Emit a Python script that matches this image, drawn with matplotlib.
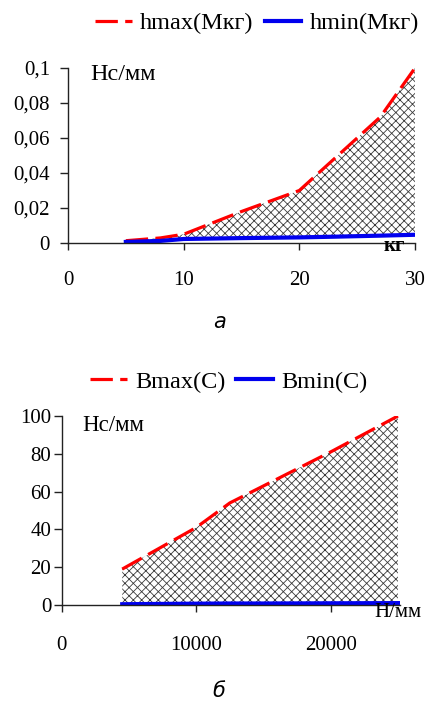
import matplotlib
matplotlib.use("Agg")
import matplotlib.pyplot as plt

# ---- data: chart (а) ----
top_x = [5, 8, 10, 15, 20, 23, 25, 27, 30]
hmax = [0.0013, 0.0029, 0.005, 0.018, 0.030, 0.048, 0.060, 0.072, 0.100]
hmin = [0.0006, 0.0012, 0.0023, 0.0028, 0.0032, 0.0036, 0.0039, 0.0042, 0.0047]
top_xticks = [0, 10, 20, 30]
top_yticks = [0, 0.02, 0.04, 0.06, 0.08, 0.1]
top_yticklabels = ["0", "0,02", "0,04", "0,06", "0,08", "0,1"]

# ---- data: chart (б) ----
bot_x = [4500, 6000, 8000, 10000, 12500, 15000, 20000, 25000]
bmax = [19, 25, 33, 41, 54, 63, 81, 100]
bmin = [0.4, 0.5, 0.6, 0.7, 0.8, 0.8, 0.9, 1.0]
bot_xticks = [0, 10000, 20000]
bot_yticks = [0, 20, 40, 60, 80, 100]

plt.rcParams['font.family'] = ['Liberation Serif', 'DejaVu Serif']
plt.rcParams['hatch.linewidth'] = 0.6

fig = plt.figure(figsize=(4.27, 7.03), dpi=100)

RED = '#ff0000'
BLUE = '#0000ee'
HATCH = '#3a3a3a'


def style_axes(ax, ypad, xpad):
    for s in ('top', 'right'):
        ax.spines[s].set_visible(False)
    for s in ('left', 'bottom'):
        ax.spines[s].set_linewidth(1.0)
        ax.spines[s].set_color('#222222')
    ax.tick_params(axis='y', direction='out', length=6, width=1.0,
                   labelsize=15, pad=ypad, color='#222222')
    ax.tick_params(axis='x', direction='out', length=5, width=1.0,
                   labelsize=15, pad=xpad, color='#222222')


# ---------- top chart ----------
ax1 = fig.add_axes([68 / 427, 1 - 243 / 703, 347 / 427, 175 / 703])
ax1.fill_between(top_x, hmin, hmax, facecolor='none', edgecolor=HATCH,
                 hatch='xxxx', linewidth=0)
l1, = ax1.plot(top_x, hmax, color=RED, lw=2.3, dashes=(7, 2.3),
               label='hmax(Мкг)')
l2, = ax1.plot(top_x, hmin, color=BLUE, lw=3, label='hmin(Мкг)')
ax1.set_xlim(0, 30)
ax1.set_ylim(0, 0.1)
ax1.set_xticks(top_xticks)
ax1.set_yticks(top_yticks)
ax1.set_yticklabels(top_yticklabels)
style_axes(ax1, ypad=7, xpad=15)
ax1.text(0.063, 0.965, 'Нс/мм', transform=ax1.transAxes, fontsize=17.5,
         ha='left', va='center')
ax1.text(0.94, -0.02, 'кг', transform=ax1.transAxes, fontsize=15,
         fontweight='bold', ha='center', va='center')
fig.legend(handles=[l1, l2], loc='center', bbox_to_anchor=(0.602, 0.967),
           ncol=2, frameon=False, fontsize=17.5, handlelength=1.5,
           handletextpad=0.35, columnspacing=0.45)
fig.text(0.513, 0.542, 'а', fontsize=15, style='italic',
         family=['DejaVu Sans'], ha='center', va='center')

# ---------- bottom chart ----------
ax2 = fig.add_axes([61.7 / 427, 1 - 605 / 703, 338 / 427, 189 / 703])
ax2.fill_between(bot_x, bmin, bmax, facecolor='none', edgecolor=HATCH,
                 hatch='xxxx', linewidth=0)
l3, = ax2.plot(bot_x, bmax, color=RED, lw=2.3, dashes=(7, 2.3),
               label='Bmax(C)')
l4, = ax2.plot(bot_x, bmin, color=BLUE, lw=3, label='Bmin(C)')
ax2.set_xlim(0, 25130)
ax2.set_ylim(0, 100)
ax2.set_xticks(bot_xticks)
ax2.set_yticks(bot_yticks)
style_axes(ax2, ypad=1.5, xpad=17)
ax2.text(0.06, 0.952, 'Нс/мм', transform=ax2.transAxes, fontsize=16.5,
         ha='left', va='center')
ax2.text(0.995, -0.04, 'Н/мм', transform=ax2.transAxes, fontsize=15,
         ha='center', va='center')
fig.legend(handles=[l3, l4], loc='center', bbox_to_anchor=(0.536, 0.457),
           ncol=2, frameon=False, fontsize=17.5, handlelength=1.5,
           handletextpad=0.35, columnspacing=0.45)
fig.text(0.513, 0.017, 'б', fontsize=15, style='italic',
         family=['DejaVu Sans'], ha='center', va='center')

fig.savefig('out.png', dpi=100, facecolor='white')
